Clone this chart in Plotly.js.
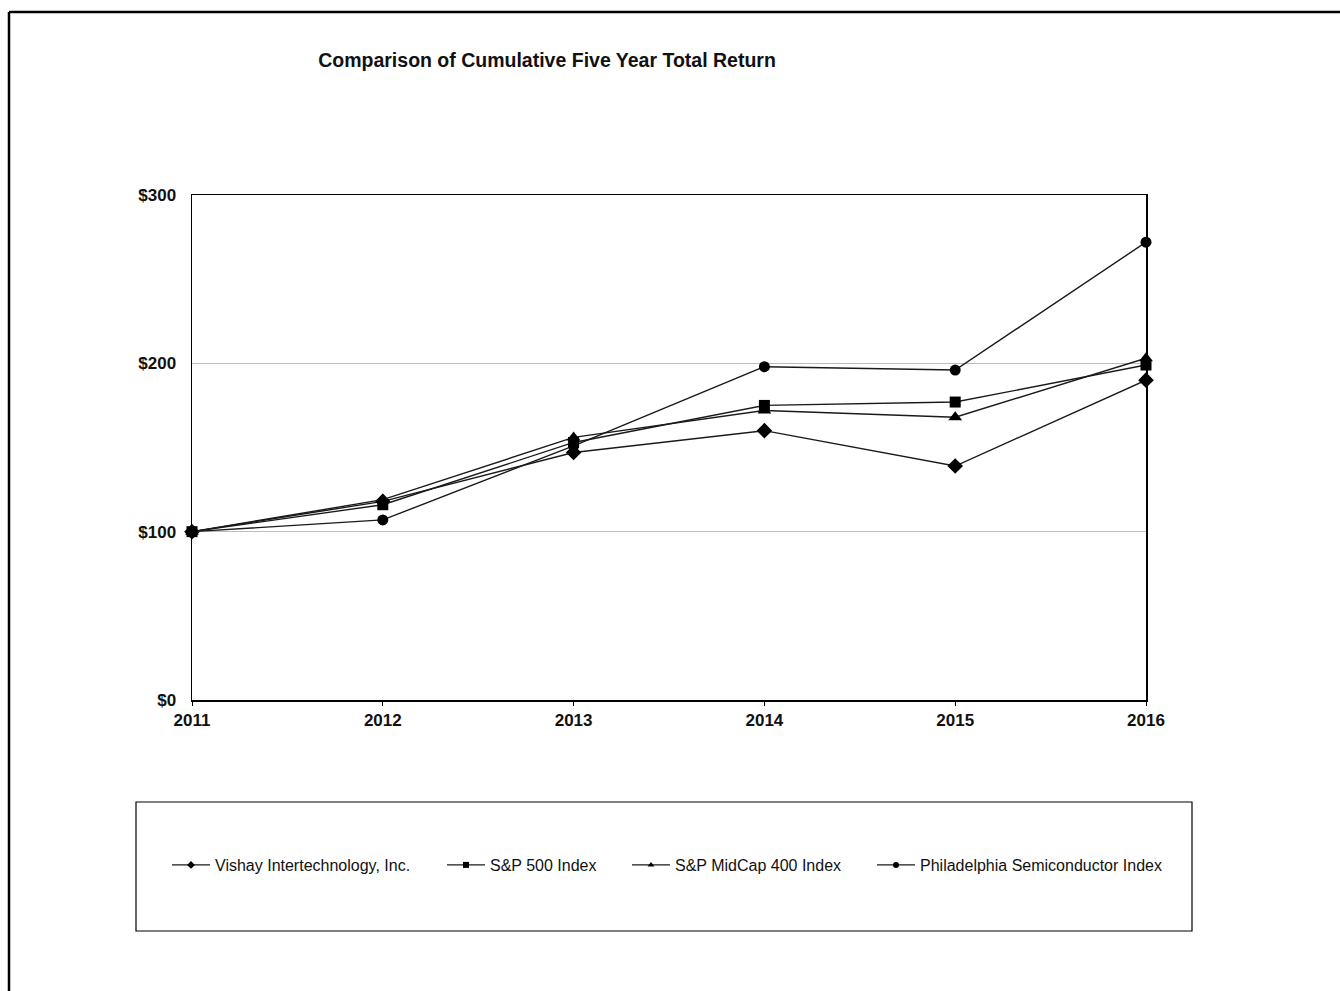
<!DOCTYPE html>
<html>
<head>
<meta charset="utf-8">
<script src="https://cdn.plot.ly/plotly-3.0.1.min.js"></script>
<style>
html,body{margin:0;padding:0;background:#fff;}
#chart{width:1340px;height:991px;}
</style>
</head>
<body>
<div id="chart"></div>
<script>
const years = [2011, 2012, 2013, 2014, 2015, 2016];
const vishay = [100, 118, 147, 160, 139, 190];
const sp500 = [100, 116, 153, 175, 177, 199];
const midcap = [100, 119, 156, 172, 168, 203];
const phlx = [100, 107, 151, 198, 196, 272];
const seriesNames = ["Vishay Intertechnology, Inc.", "S&P 500 Index", "S&P MidCap 400 Index", "Philadelphia Semiconductor Index"];
const yTicks = [0, 100, 200, 300];
const yTickLabels = ["$0", "$100", "$200", "$300"];

const seriesData = [vishay, sp500, midcap, phlx];
const symbols = ["diamond", "square", "triangle-up", "circle"];
const sizes = [12, 11, 12, 11];
const legendIds = ["legend", "legend2", "legend3", "legend4"];

const traces = [];
seriesData.forEach((vals, i) => {
  traces.push({
    x: years, y: vals, type: "scatter", mode: "lines+markers",
    name: seriesNames[i], legendgroup: "g" + i, showlegend: false,
    cliponaxis: false,
    line: {color: "#1a1a1a", width: 1.4},
    marker: {symbol: symbols[i], size: sizes[i], color: "#000"}
  });
});
seriesData.forEach((vals, i) => {
  traces.push({
    x: [null], y: [null], type: "scatter", mode: "lines+markers",
    name: seriesNames[i], legendgroup: "g" + i, showlegend: true,
    legend: legendIds[i],
    line: {color: "#1a1a1a", width: 1.4},
    marker: {symbol: symbols[i], size: 6, color: "#000"}
  });
});

const L = 192, R = 1146, T = 195, B = 700;
const px = v => (v - L) / (R - L);
const py = v => (B - v) / (B - T);

const legendStarts = [172, 447, 632, 877];
function mkLegend(start) {
  return {
    orientation: "h", x: px(start - 5), xanchor: "left", y: py(865), yanchor: "middle",
    xref: "paper", yref: "paper",
    bgcolor: "rgba(0,0,0,0)", borderwidth: 0,
    font: {size: 16, color: "#111"},
    itemwidth: 38
  };
}

const layout = {
  width: 1340, height: 991,
  margin: {l: L, r: 1340 - R, t: T, b: 991 - B, pad: 0},
  paper_bgcolor: "#fff", plot_bgcolor: "#fff",
  font: {family: "Liberation Sans, Arial, sans-serif", color: "#000"},
  title: {
    text: "<b>Comparison of Cumulative Five Year Total Return</b>",
    font: {size: 19.5, color: "#111", family: "Liberation Sans, Arial, sans-serif"},
    xref: "container", yref: "container",
    x: 547 / 1340, xanchor: "center", y: 1 - 60 / 991, yanchor: "middle"
  },
  xaxis: {
    type: "linear", range: [2011, 2016], tickvals: years,
    ticktext: years.map(y => "<b>" + y + "</b>"),
    showgrid: false, zeroline: false,
    showline: true, linecolor: "#000", linewidth: 1.5, mirror: true,
    ticks: "outside", ticklen: 4, tickcolor: "#000", tickwidth: 1,
    tickfont: {size: 17, color: "#111"}
  },
  yaxis: {
    range: [0, 300], tickvals: yTicks,
    ticktext: yTickLabels.map(t => "<b>" + t + "</b>"),
    showgrid: true, gridcolor: "#bdbdbd", gridwidth: 1, zeroline: false,
    showline: true, linecolor: "#000", linewidth: 1.5, mirror: true,
    ticks: "", ticklabelstandoff: 11,
    tickfont: {size: 17, color: "#111"}
  },
  showlegend: true,
  legend: mkLegend(legendStarts[0]),
  legend2: mkLegend(legendStarts[1]),
  legend3: mkLegend(legendStarts[2]),
  legend4: mkLegend(legendStarts[3]),
  shapes: [
    {type: "line", xref: "paper", yref: "paper", x0: px(9), x1: px(1345), y0: py(12), y1: py(12), line: {color: "#000", width: 2.5}},
    {type: "line", xref: "paper", yref: "paper", x0: px(9), x1: px(9), y0: py(12), y1: py(1000), line: {color: "#000", width: 2.5}},
    {type: "rect", xref: "paper", yref: "paper", x0: px(136), x1: px(1192), y0: py(802), y1: py(931), line: {color: "#000", width: 1.2}}
  ]
};

Plotly.newPlot("chart", traces, layout, {staticPlot: true, displayModeBar: false});
</script>
</body>
</html>
